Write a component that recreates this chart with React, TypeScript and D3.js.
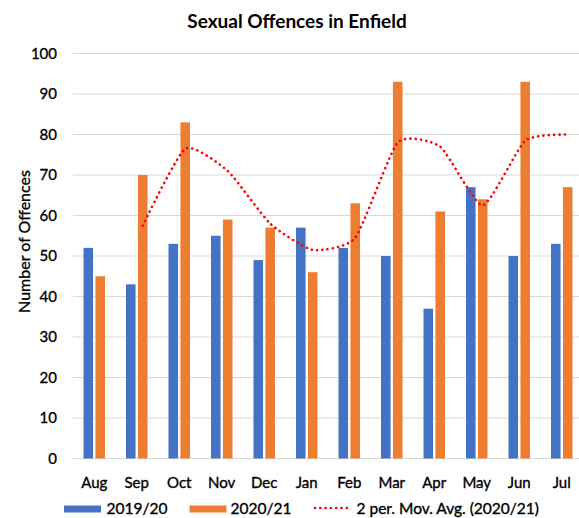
import * as d3 from "d3";

const W = 579;
const H = 518;

const months = ["Aug", "Sep", "Oct", "Nov", "Dec", "Jan", "Feb", "Mar", "Apr", "May", "Jun", "Jul"];
const series = ["2019/20", "2020/21"];
const offences1920 = [52, 43, 53, 55, 49, 57, 52, 50, 37, 67, 50, 53];
const offences2021 = [45, 70, 83, 59, 57, 46, 63, 93, 61, 64, 93, 67];
// 2 period moving average of 2020/21 as shown (starts at Sep)
const movAvgMonths = ["Sep", "Oct", "Nov", "Dec", "Jan", "Feb", "Mar", "Apr", "May", "Jun", "Jul"];
const movAvg = [57.5, 76.5, 71, 58, 51.5, 54.5, 78, 77, 62.5, 78.5, 80];
const yTicks = [0, 10, 20, 30, 40, 50, 60, 70, 80, 90, 100];

const colors = ["#4472C4", "#ED7D31"];
const font = "Lato, 'Open Sans', sans-serif";
// thin outline to get the heavier look of the original labels
const heavy = { stroke: "#000", strokeWidth: 0.35 };

export default function App() {
  const x = d3.scaleBand<string>().domain(months).range([73, 583]);
  const x1 = d3
    .scaleBand<string>()
    .domain(series)
    .range([-10.75, 10.75])
    .paddingInner(0.2);
  const y = d3.scaleLinear().domain([0, 100]).range([458.5, 53.5]);

  const center = (m: string) => (x(m) ?? 0) + x.bandwidth() / 2;
  const values = [offences1920, offences2021];

  const line = d3
    .line<number>()
    .x((_, i) => center(movAvgMonths[i]) + (x1("2020/21") ?? 0) + x1.bandwidth() / 2)
    .y((d) => y(d))
    .curve(d3.curveCardinal.tension(0.45));

  return (
    <svg
      width={W}
      height={H}
      style={{ position: "absolute", left: 0, top: 0, background: "#fff" }}
      fontFamily={font}
    >
      <text x={297} y={28} textAnchor="middle" fontSize={19} fontWeight="bold" fill="#000">
        Sexual Offences in Enfield
      </text>

      {/* gridlines */}
      {yTicks.map((t) => (
        <line key={t} x1={73} x2={W} y1={y(t)} y2={y(t)} stroke="#D9D9D9" strokeWidth={1} />
      ))}
      {yTicks.map((t) => (
        <text key={"l" + t} x={57} y={y(t) + 5} textAnchor="end" fontSize={15} fill="#000" {...heavy}>
          {t}
        </text>
      ))}

      <text
        transform={`translate(29.5,${241.5}) rotate(-90)`}
        textAnchor="middle"
        fontSize={16}
        fill="#000"
        {...heavy}
      >
        Number of Offences
      </text>

      {/* bars */}
      {series.map((s, si) =>
        months.map((m, i) => (
          <rect
            key={s + m}
            x={center(m) + (x1(s) ?? 0)}
            y={y(values[si][i])}
            width={x1.bandwidth()}
            height={y(0) - y(values[si][i])}
            fill={colors[si]}
          />
        ))
      )}

      <path
        d={line(movAvg) ?? ""}
        fill="none"
        stroke="#FF0000"
        strokeWidth={2.6}
        strokeDasharray="0.1 5.2"
        strokeLinecap="round"
      />

      {/* month labels */}
      {months.map((m) => (
        <text key={"m" + m} x={center(m)} y={488} textAnchor="middle" fontSize={15} fill="#000" {...heavy}>
          {m}
        </text>
      ))}

      {/* legend */}
      <rect x={64} y={505.5} width={37} height={7} fill={colors[0]} />
      <text x={106.5} y={514} fontSize={15.5} fill="#000" {...heavy}>
        2019/20
      </text>
      <rect x={189.5} y={505.5} width={37} height={7} fill={colors[1]} />
      <text x={230.5} y={514} fontSize={15.5} fill="#000" {...heavy}>
        2020/21
      </text>
      <line
        x1={315}
        x2={350}
        y1={508}
        y2={508}
        stroke="#FF0000"
        strokeWidth={2.6}
        strokeDasharray="0.1 5.2"
        strokeLinecap="round"
      />
      <text x={356.5} y={514} fontSize={15.5} fill="#000" {...heavy}>
        2 per. Mov. Avg. (2020/21)
      </text>
    </svg>
  );
}
